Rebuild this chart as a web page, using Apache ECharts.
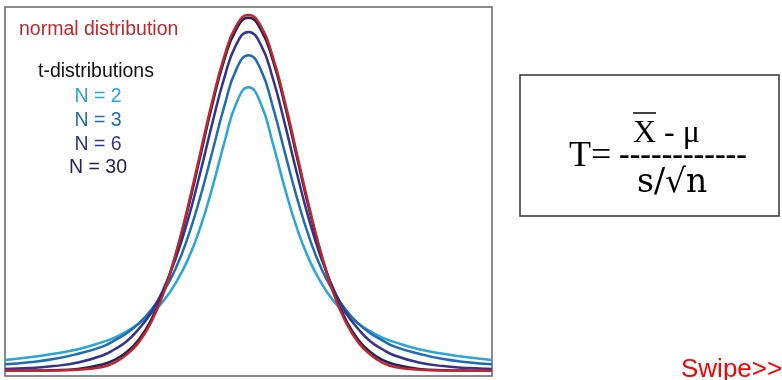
<!DOCTYPE html>
<html>
<head>
    <meta charset="utf-8" />
    <title>t-distributions vs normal</title>
    <script src="https://cdn.jsdelivr.net/npm/echarts@6/dist/echarts.min.js"></script>
    <style>
        html, body { margin: 0; padding: 0; background: #fff; }
        #chart { width: 782px; height: 380px; }
    </style>
</head>
<body>
    <div id="chart"></div>
    <script type="text/javascript">

        // x positions (right half, curves are symmetric about 0)
        var xs = [0, 0.25, 0.5, 0.75, 1, 1.25, 1.5, 1.75, 2, 2.25, 2.5, 2.75, 3, 3.5, 4, 4.5, 5];

        // densities
        var normalDist = [0.399, 0.387, 0.352, 0.301, 0.242, 0.183, 0.130, 0.086, 0.054, 0.032, 0.018, 0.009, 0.004, 0.001, 0.0001, 0, 0];
        var tN2  = [0.318, 0.300, 0.255, 0.204, 0.159, 0.124, 0.098, 0.078, 0.064, 0.053, 0.044, 0.037, 0.032, 0.024, 0.019, 0.015, 0.012];
        var tN3  = [0.354, 0.338, 0.296, 0.244, 0.193, 0.149, 0.114, 0.088, 0.068, 0.053, 0.042, 0.034, 0.027, 0.019, 0.013, 0.0095, 0.0071];
        var tN6  = [0.380, 0.366, 0.328, 0.276, 0.220, 0.168, 0.125, 0.091, 0.065, 0.047, 0.033, 0.024, 0.017, 0.0092, 0.0051, 0.0029, 0.0018];
        var tN30 = [0.396, 0.383, 0.348, 0.297, 0.238, 0.180, 0.129, 0.088, 0.057, 0.035, 0.021, 0.012, 0.0069, 0.002, 0.0005, 0.0001, 0];

        var legendLabels = ['N = 2', 'N = 3', 'N = 6', 'N = 30'];
        var colors = ['#2aa6dd', '#1f6db0', '#34348e', '#222257'];
        var normalColor = '#c1272d';

        function mirror(vals) {
            var pts = [];
            for (var i = xs.length - 1; i > 0; i--) pts.push([-xs[i], vals[i]]);
            for (var j = 0; j < xs.length; j++) pts.push([xs[j], vals[j]]);
            return pts;
        }

        function line(name, vals, color) {
            return {
                name: name,
                type: 'line',
                data: mirror(vals),
                smooth: true,
                showSymbol: false,
                silent: true,
                lineStyle: { color: color, width: 2.5 }
            };
        }

        var chart = echarts.init(document.getElementById('chart'));

        var sans = '"Liberation Sans", Arial, sans-serif';
        var serif = '"Liberation Serif", serif';
        var wideSerif = '"DejaVu Serif", serif';

        var graphics = [
            { type: 'text', x: 19, y: 30, style: { text: 'normal distribution', fill: normalColor, font: '19.5px ' + sans, verticalAlign: 'middle' } },
            { type: 'text', x: 38, y: 72, style: { text: 't-distributions', fill: '#111', font: '19.5px ' + sans, verticalAlign: 'middle' } }
        ];
        legendLabels.forEach(function (lbl, i) {
            graphics.push({ type: 'text', x: 98, y: 97 + i * 23.7, style: { text: lbl, fill: colors[i], font: '19.5px ' + sans, align: 'center', verticalAlign: 'middle' } });
        });

        // formula box
        graphics.push(
            { type: 'rect', shape: { x: 520, y: 75, width: 259, height: 141 }, style: { fill: '#fff', stroke: '#333', lineWidth: 1.5 } },
            { type: 'text', x: 569, y: 157, style: { text: 'T=', fill: '#000', font: '36px ' + serif, verticalAlign: 'middle' } },
            { type: 'text', x: 633, y: 134, style: { text: 'X - μ', fill: '#000', font: '32px ' + serif, verticalAlign: 'middle' } },
            { type: 'line', shape: { x1: 633, y1: 113, x2: 656, y2: 113 }, style: { stroke: '#000', lineWidth: 1.5 } },
            { type: 'text', x: 619, y: 156, style: { text: '------------', fill: '#000', font: 'bold 32px ' + serif, verticalAlign: 'middle' } },
            { type: 'text', x: 637, y: 183, style: { text: 's/√n', fill: '#000', font: '33px ' + wideSerif, verticalAlign: 'middle' } },
            { type: 'text', x: 681, y: 370, style: { text: 'Swipe>>', fill: '#ff0000', font: '26px ' + sans, verticalAlign: 'middle' } }
        );

        var option = {
            animation: false,
            grid: { left: 5, right: 290, top: 7, bottom: 4, show: true, borderColor: '#666', borderWidth: 1.5, backgroundColor: '#fff' },
            xAxis: { type: 'value', min: -5, max: 5, show: false },
            yAxis: { type: 'value', min: -0.006, max: 0.408, show: false },
            series: [
                line('N = 2', tN2, colors[0]),
                line('N = 3', tN3, colors[1]),
                line('N = 6', tN6, colors[2]),
                line('N = 30', tN30, colors[3]),
                line('normal distribution', normalDist, normalColor)
            ],
            graphic: graphics
        };

        chart.setOption(option);
    </script>
</body>
</html>
